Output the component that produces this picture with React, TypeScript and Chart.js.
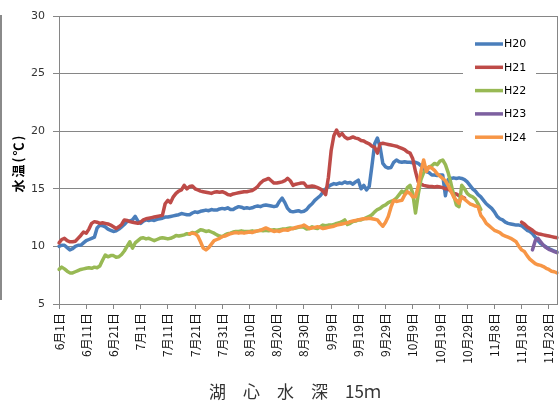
import React, { useEffect, useRef } from 'react';
import { Chart, registerables } from 'chart.js';

Chart.register(...registerables);

// ---- categories: daily dates from 6/1 to 12/1 ----
const monthLengths: [number, number][] = [[6, 30], [7, 31], [8, 31], [9, 30], [10, 31], [11, 30], [12, 1]];
const dateLabels: string[] = [];
for (const [m, n] of monthLengths) for (let d = 1; d <= n; d++) dateLabels.push(`${m}月${d}日`);
const labelEvery = 10;

const yTicks = [5, 10, 15, 20, 25, 30];
const seriesNames = ['H20', 'H21', 'H22', 'H23', 'H24'];
const seriesColors = ['#4A7EBB', '#BE4B48', '#98B954', '#7D60A0', '#F79646'];
const yTitle = '水温(℃)';
const chartTitle = '湖　心　水　深　15ｍ';

// ---- series values (°C), each with its start day index ----
const h20Start = 0;
const h20Values = [
  10.0, 10.1, 10.1, 9.9, 9.7, 9.8, 10.0, 10.1, 10.1, 10.3,
  10.5, 10.6, 10.7, 10.8, 11.6, 11.85, 11.8, 11.7, 11.5, 11.4,
  11.3, 11.35, 11.5, 11.7, 11.9, 12.15, 12.2, 12.3, 12.6, 12.2,
  12.0, 12.2, 12.3, 12.25, 12.3, 12.25, 12.35, 12.4, 12.45, 12.55,
  12.55, 12.6, 12.65, 12.7, 12.75, 12.85, 12.8, 12.75, 12.75, 12.9,
  13.0, 12.95, 13.05, 13.1, 13.15, 13.1, 13.2, 13.15, 13.15, 13.25,
  13.3, 13.25, 13.35, 13.2, 13.2, 13.35, 13.45, 13.4, 13.3, 13.35,
  13.3, 13.35, 13.45, 13.5, 13.45, 13.55, 13.6, 13.55, 13.5, 13.45,
  13.5, 13.9, 14.2, 13.8, 13.3, 13.05, 13.0, 13.05, 13.1, 13.0,
  13.05, 13.2, 13.5, 13.7, 14.0, 14.2, 14.4, 14.7, 15.0, 15.2,
  15.35, 15.45, 15.4, 15.5, 15.45, 15.6, 15.5, 15.55, 15.4, 15.6,
  15.75, 15.0, 15.3, 14.9, 15.2, 17.0, 18.9, 19.4, 18.6, 17.2,
  16.9, 16.8, 16.85, 17.3, 17.5, 17.35, 17.3, 17.35, 17.3, 17.3,
  17.25, 17.3, 17.2, 17.0, 16.7, 16.5, 16.4, 16.2, 16.2, 16.15,
  16.2, 16.2, 14.4, 15.8, 15.9, 15.95, 15.9, 15.95, 15.9, 15.8,
  15.6, 15.3, 15.0, 14.8, 14.5, 14.3, 14.0, 13.7, 13.5, 13.3,
  13.0, 12.6, 12.4, 12.3, 12.1, 12.0, 11.95, 11.9, 11.85, 11.85,
  11.8, 11.6, 11.4, 11.3, 11.1, 10.8, 10.5, 10.25, 10.1, 9.95,
  9.8, 9.7, 9.6, 9.5,
];

const h21StartA = 0;
const h21ValuesA = [
  10.3, 10.6, 10.7, 10.5, 10.4, 10.4, 10.45, 10.7, 10.95, 11.25,
  11.15, 11.5, 12.0, 12.15, 12.1, 12.0, 12.05, 12.0, 11.95, 11.85,
  11.7, 11.55, 11.7, 11.9, 12.3, 12.25, 12.15, 12.1, 12.05, 12.0,
  12.1, 12.3, 12.4, 12.45, 12.5, 12.55, 12.6, 12.65, 12.7, 13.7,
  14.0, 13.8, 14.3, 14.6, 14.8, 14.9, 15.3, 15.0, 15.2, 15.25,
  15.0, 14.9, 14.8, 14.75, 14.7, 14.65, 14.6, 14.7, 14.75, 14.7,
  14.75, 14.65, 14.5, 14.45, 14.55, 14.6, 14.65, 14.7, 14.75, 14.75,
  14.8, 14.85, 15.0, 15.2, 15.5, 15.7, 15.8, 15.9, 15.7, 15.5,
  15.5, 15.55, 15.6, 15.7, 15.9, 15.7, 15.3, 15.4, 15.45, 15.5,
  15.5, 15.2, 15.2, 15.25, 15.2, 15.1, 15.0, 14.8, 14.5, 16.0,
  18.3, 19.6, 20.1, 19.6, 19.8, 19.5, 19.35, 19.4, 19.5, 19.4,
  19.35, 19.2, 19.15, 19.0, 18.9, 18.7, 18.6, 18.1, 18.9, 18.95,
  18.9, 18.85, 18.8, 18.75, 18.7, 18.6, 18.5, 18.4, 18.2, 18.1,
  17.6, 16.5, 15.6, 15.4, 15.3, 15.25, 15.2, 15.2, 15.15, 15.2,
  15.15, 15.1, 15.0, 15.0, 14.8, 14.6, 14.55, 14.4, 14.3, 14.2,
];
const h21StartB = 170;
const h21ValuesB = [12.1, 11.95, 11.7, 11.55, 11.4, 11.2, 11.1, 11.05, 11.0, 10.95, 10.9, 10.85, 10.8, 10.75];

const h22Start = 0;
const h22Values = [
  8.0, 8.2, 8.05, 7.85, 7.7, 7.7, 7.8, 7.9, 8.0, 8.05,
  8.1, 8.15, 8.1, 8.2, 8.15, 8.3, 8.8, 9.25, 9.1, 9.2,
  9.2, 9.05, 9.1, 9.3, 9.6, 10.0, 10.4, 9.85, 10.3, 10.5,
  10.7, 10.75, 10.65, 10.7, 10.6, 10.5, 10.6, 10.7, 10.75, 10.7,
  10.65, 10.7, 10.8, 10.95, 10.9, 10.95, 11.0, 11.1, 11.05, 11.2,
  11.15, 11.3, 11.45, 11.4, 11.3, 11.35, 11.25, 11.15, 11.0, 10.9,
  10.85, 11.0, 11.1, 11.15, 11.25, 11.3, 11.3, 11.35, 11.3, 11.3,
  11.3, 11.35, 11.3, 11.35, 11.4, 11.35, 11.4, 11.35, 11.4, 11.45,
  11.4, 11.45, 11.5, 11.5, 11.55, 11.6, 11.55, 11.6, 11.65, 11.7,
  11.65, 11.5, 11.55, 11.7, 11.6, 11.55, 11.7, 11.85, 11.8, 11.85,
  11.85, 11.9, 12.0, 12.05, 12.15, 12.3, 11.9, 12.0, 12.15, 12.2,
  12.3, 12.3, 12.4, 12.5, 12.6, 12.75, 13.0, 13.2, 13.3, 13.5,
  13.6, 13.8, 13.9, 14.0, 14.2, 14.5, 14.8, 14.6, 15.1, 15.3,
  14.6, 12.9, 14.5, 15.8, 16.4, 16.7, 16.9, 17.0, 17.2, 17.1,
  17.4, 17.5, 17.1, 16.4, 15.5, 14.5, 13.6, 13.45, 15.3, 15.0,
  14.6, 14.4, 14.3, 14.1, 13.7, 13.2,
];

const h23Start = 174;
const h23Values = [9.7, 10.5, 10.7, 10.4, 10.1, 9.9, 9.75, 9.65, 9.55, 9.45];

const h24Start = 48;
const h24Values = [
  11.1, 11.15,
  11.1, 10.9, 10.4, 9.85, 9.7, 9.9, 10.2, 10.5, 10.6, 10.7,
  10.85, 10.9, 11.0, 11.1, 11.15, 11.2, 11.15, 11.2, 11.15, 11.2,
  11.25, 11.2, 11.3, 11.35, 11.4, 11.5, 11.6, 11.5, 11.4, 11.3,
  11.35, 11.3, 11.4, 11.45, 11.4, 11.5, 11.55, 11.65, 11.7, 11.75,
  11.85, 11.7, 11.55, 11.6, 11.65, 11.7, 11.65, 11.55, 11.6, 11.65,
  11.7, 11.75, 11.85, 11.9, 11.95, 12.0, 12.05, 12.15, 12.2, 12.25,
  12.3, 12.35, 12.4, 12.4, 12.45, 12.4, 12.35, 12.3, 12.0, 11.75,
  12.1, 12.6, 13.4, 14.0, 13.9, 13.95, 14.0, 14.45, 14.75, 14.6,
  14.3, 14.3, 15.2, 16.5, 17.5, 16.5, 16.9, 16.8, 16.6, 16.3,
  16.1, 15.9, 15.7, 15.3, 14.8, 14.3, 14.0, 13.75, 14.3, 14.1,
  13.9, 13.7, 13.6, 13.5, 13.45, 12.7, 12.4, 12.0, 11.8, 11.6,
  11.4, 11.3, 11.2, 11.0, 10.9, 10.8, 10.7, 10.55, 10.4, 10.0,
  9.7, 9.55, 9.2, 8.9, 8.7, 8.5, 8.4, 8.35, 8.25, 8.1,
  8.0, 7.85, 7.8, 7.7,
];

function placeSeries(parts: [number, number[]][]): (number | null)[] {
  const out: (number | null)[] = dateLabels.map(() => null);
  for (const [start, vals] of parts) vals.forEach((v, i) => { out[start + i] = v; });
  return out;
}

const seriesData = [
  placeSeries([[h20Start, h20Values]]),
  placeSeries([[h21StartA, h21ValuesA], [h21StartB, h21ValuesB]]),
  placeSeries([[h22Start, h22Values]]),
  placeSeries([[h23Start, h23Values]]),
  placeSeries([[h24Start, h24Values]]),
];

const GRID = '#868686';
const CJK = '"Noto Sans CJK JP", "Noto Sans CJK SC", sans-serif';

const decorPlugin = {
  id: 'decor',
  afterDraw(chart: any) {
    const { ctx, chartArea } = chart;
    const { top, bottom, right } = chartArea;
    ctx.save();
    // plot-area right border
    ctx.strokeStyle = GRID;
    ctx.lineWidth = 1;
    const rx = Math.round(right) + 0.5;
    ctx.beginPath();
    ctx.moveTo(rx, top);
    ctx.lineTo(rx, bottom);
    ctx.stroke();

    // legend
    ctx.fillStyle = '#ffffff';
    ctx.fillRect(463, 31, 73, 118);
    ctx.font = '11px "DejaVu Sans"';
    ctx.textBaseline = 'middle';
    ctx.textAlign = 'left';
    seriesNames.forEach((name, i) => {
      const y = 44 + i * 23.3;
      ctx.strokeStyle = seriesColors[i];
      ctx.lineWidth = 3.5;
      ctx.beginPath();
      ctx.moveTo(475, y);
      ctx.lineTo(503, y);
      ctx.stroke();
      ctx.fillStyle = '#000';
      ctx.fillText(name, 504, y + 0.5);
    });

    // y-axis title
    ctx.save();
    ctx.translate(18, 163);
    ctx.rotate(-Math.PI / 2);
    ctx.font = `bold 13px ${CJK}`;
    (ctx as any).letterSpacing = '2px';
    ctx.fillStyle = '#000';
    ctx.textAlign = 'center';
    ctx.textBaseline = 'middle';
    ctx.fillText(yTitle, 0, 0);
    ctx.restore();

    // bottom title
    ctx.font = `17px ${CJK}`;
    ctx.fillStyle = '#333';
    ctx.textAlign = 'center';
    ctx.textBaseline = 'middle';
    ctx.fillText(chartTitle, 295, 392);

    // left edge strip (cropped neighbour)
    ctx.fillStyle = '#8a8a8a';
    ctx.fillRect(0, 15, 2, 285);
    ctx.restore();
  },
};

export default function App() {
  const ref = useRef<HTMLCanvasElement | null>(null);

  useEffect(() => {
    if (!ref.current) return;
    const chart = new Chart(ref.current, {
      type: 'line',
      data: {
        labels: dateLabels,
        datasets: seriesNames.map((name, i) => ({
          label: name,
          data: seriesData[i],
          borderColor: seriesColors[i],
          backgroundColor: seriesColors[i],
          borderWidth: 3.5,
          pointRadius: 0,
          tension: 0,
          spanGaps: false,
          borderJoinStyle: 'round' as const,
          borderCapStyle: 'round' as const,
          order: seriesNames.length - i,
        })),
      },
      options: {
        responsive: false,
        animation: false,
        events: [],
        layout: { padding: { top: 16, right: 2, left: 0, bottom: 0 } },
        plugins: {
          legend: { display: false },
          tooltip: { enabled: false },
          title: { display: false },
        },
        scales: {
          x: {
            type: 'category',
            offset: false,
            grid: {
              drawOnChartArea: false,
              drawTicks: true,
              tickLength: 5,
              color: (c: any) => (c.index % labelEvery === 0 ? GRID : 'rgba(0,0,0,0)'),
            },
            border: { display: true, color: GRID, width: 1 },
            ticks: {
              autoSkip: false,
              minRotation: 90,
              maxRotation: 90,
              padding: 4,
              color: '#111',
              font: { family: CJK, size: 12 },
              callback: (_v: any, i: number) => (i % labelEvery === 0 ? dateLabels[i] : ''),
            },
            afterFit: (s: any) => {
              s.height = 101;
              s.paddingLeft = 0;
              s.paddingRight = 0;
            },
          },
          y: {
            min: yTicks[0],
            max: yTicks[yTicks.length - 1],
            ticks: {
              stepSize: 5,
              padding: 8,
              color: '#333',
              font: { family: '"DejaVu Sans"', size: 11 },
            },
            grid: { color: GRID, tickLength: 6 },
            border: { color: GRID },
            afterFit: (s: any) => {
              s.width = 59;
              s.paddingTop = 0;
              s.paddingBottom = 0;
            },
          },
        },
      },
      plugins: [decorPlugin],
    });
    return () => chart.destroy();
  }, []);

  return (
    <div style={{ position: 'fixed', left: 0, top: 0, width: 559, height: 405, background: '#fff' }}>
      <canvas ref={ref} width={559} height={405} style={{ display: 'block' }} />
    </div>
  );
}
